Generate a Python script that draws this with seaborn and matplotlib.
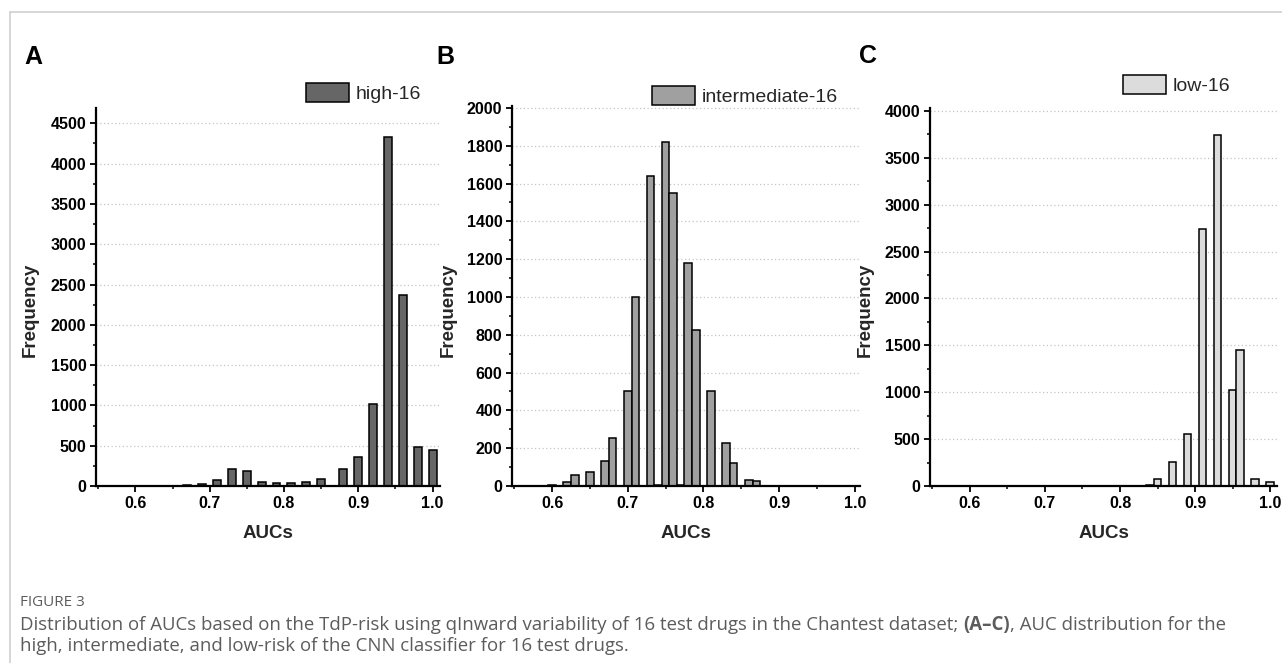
import matplotlib
matplotlib.use('Agg')
import matplotlib.pyplot as plt
import seaborn as sns
from matplotlib.lines import Line2D
from matplotlib.ticker import MultipleLocator

# bin centres (AUC) and counts
high_auc = [0.67, 0.69, 0.71, 0.73, 0.75, 0.77, 0.79, 0.81, 0.83, 0.85,
            0.88, 0.90, 0.92, 0.94, 0.96, 0.98, 1.00]
high_freq = [10, 20, 80, 205, 185, 55, 40, 40, 48, 82,
             205, 355, 1020, 4330, 2375, 490, 450]

mid_auc = [0.60, 0.62, 0.63, 0.65, 0.67, 0.68, 0.70, 0.71, 0.73, 0.74,
           0.75, 0.76, 0.77, 0.78, 0.79, 0.81, 0.83, 0.84, 0.86, 0.87]
mid_freq = [5, 23, 56, 76, 132, 255, 503, 998, 1640, 6,
            1821, 1552, 6, 1178, 826, 503, 225, 123, 32, 26]

low_auc = [0.84, 0.85, 0.87, 0.89, 0.91, 0.93, 0.95, 0.96, 0.98, 1.00]
low_freq = [15, 71, 260, 558, 2738, 3741, 1024, 1451, 71, 46]

x_ticks = [0.6, 0.7, 0.8, 0.9, 1.0]
x_labels = ['0.6', '0.7', '0.8', '0.9', '1.0']
high_yticks = [0, 500, 1000, 1500, 2000, 2500, 3000, 3500, 4000, 4500]
mid_yticks = [0, 200, 400, 600, 800, 1000, 1200, 1400, 1600, 1800, 2000]
low_yticks = [0, 500, 1000, 1500, 2000, 2500, 3000, 3500, 4000]

sns.set_theme(style='ticks')
plt.rcParams['font.family'] = ['Liberation Sans', 'DejaVu Sans']

W, H = 1282, 663
fig = plt.figure(figsize=(W / 100, H / 100), dpi=100)


def px_axes(left, top, right, bottom):
    return fig.add_axes([left / W, 1 - bottom / H, (right - left) / W, (bottom - top) / H])


panels = [
    # letter, axes box, data, colour, width, yticks, ylim, minor, legend pos, letter pos, ylabel x
    ('A', (96, 108, 440, 486), high_auc, high_freq, 'high-16', '#666666', 0.53,
     high_yticks, 4690, 250, (306, 83), (33, 57), 30, 1.01),
    ('B', (512, 106, 860, 486), mid_auc, mid_freq, 'intermediate-16', '#a0a0a0', 1.0,
     mid_yticks, 2010, 100, (652, 86), (445, 57), 448, 1.007),
    ('C', (930, 108, 1277, 486), low_auc, low_freq, 'low-16', '#dcdcdc', 1.0,
     low_yticks, 4030, 250, (1123, 75), (868, 56), 865, 1.009),
]

for (letter, box, auc, freq, name, col, wd, yt, ytop, ymin,
     legpos, letpos, ylx, xright) in panels:
    ax = px_axes(*box)
    sns.barplot(x=auc, y=freq, native_scale=True, orient='x', color=col,
                saturation=1, edgecolor='black', linewidth=1.1, width=wd,
                errorbar=None, label=name, ax=ax)
    ax.set_xlim(0.547, xright)
    ax.set_ylim(0, ytop)
    ax.set_xticks(x_ticks)
    ax.set_xticklabels(x_labels, fontweight='bold', fontsize=11.5)
    ax.set_yticks(yt)
    ax.set_yticklabels([str(v) for v in yt], fontweight='bold', fontsize=11.5)
    ax.xaxis.set_minor_locator(MultipleLocator(0.05))
    ax.yaxis.set_minor_locator(MultipleLocator(ymin))
    ax.tick_params(which='major', direction='out', length=4, width=1.3, pad=3, colors='black')
    ax.tick_params(which='minor', direction='out', length=2.5, width=1.1, colors='black')
    ax.yaxis.grid(True, linestyle=(0, (1, 2)), color='#c4c4c4', linewidth=0.9)
    ax.set_axisbelow(True)
    sns.despine(ax=ax)
    for s in ['left', 'bottom']:
        ax.spines[s].set_linewidth(1.6)
        ax.spines[s].set_color('black')
    ax.set_xlabel('AUCs', fontweight='bold', fontsize=13.5, labelpad=0)
    ax.set_ylabel('Frequency', fontweight='bold', fontsize=13.5)
    ax.xaxis.set_label_coords(0.5, -(533 - box[3]) / (box[3] - box[1]), transform=ax.transAxes)
    ax.yaxis.set_label_coords((ylx - box[0]) / (box[2] - box[0]),
                              (box[3] - 310) / (box[3] - box[1]), transform=ax.transAxes)
    ax.xaxis.label.set_va('center')
    ax.yaxis.label.set_va('center')
    ax.legend(loc='upper left', bbox_to_anchor=(legpos[0] / W, 1 - legpos[1] / H),
              bbox_transform=fig.transFigure, frameon=False, fontsize=14,
              handlelength=2.2, handleheight=1.1, handletextpad=0.35,
              borderpad=0, borderaxespad=0)
    fig.text(letpos[0] / W, 1 - letpos[1] / H, letter, fontsize=18,
             fontweight='bold', ha='center', va='center', color='black')

# page frame lines
fig.add_artist(Line2D([10 / W, 1], [1 - 12 / H, 1 - 12 / H], color='#cfcfcf', lw=1.2))
fig.add_artist(Line2D([10 / W, 10 / W], [0, 1 - 12 / H], color='#cfcfcf', lw=1.2))

# caption
cap_col = '#5c5c5c'
cap_font = ['Open Sans', 'DejaVu Sans']
fig.text(20 / W, 1 - 602 / H, 'FIGURE 3', fontsize=11, color=cap_col,
         family=cap_font, va='center')

renderer = fig.canvas.get_renderer()
pieces = [
    ('Distribution of AUCs based on the TdP-risk using qInward variability of 16 test drugs in the Chantest dataset; ', 'normal'),
    ('(A\u2013C)', 'bold'),
    (', AUC distribution for the', 'normal'),
]
x = 20 / W
for txt, wgt in pieces:
    t = fig.text(x, 1 - 625 / H, txt, fontsize=13.4, color=cap_col, family=cap_font,
                 fontweight=wgt, va='center')
    bb = t.get_window_extent(renderer)
    x = bb.x1 / (fig.dpi * fig.get_figwidth())
fig.text(20 / W, 1 - 646 / H,
         'high, intermediate, and low-risk of the CNN classifier for 16 test drugs.',
         fontsize=13.4, color=cap_col, family=cap_font, va='center')

fig.savefig('out.png', dpi=100, facecolor='white')
